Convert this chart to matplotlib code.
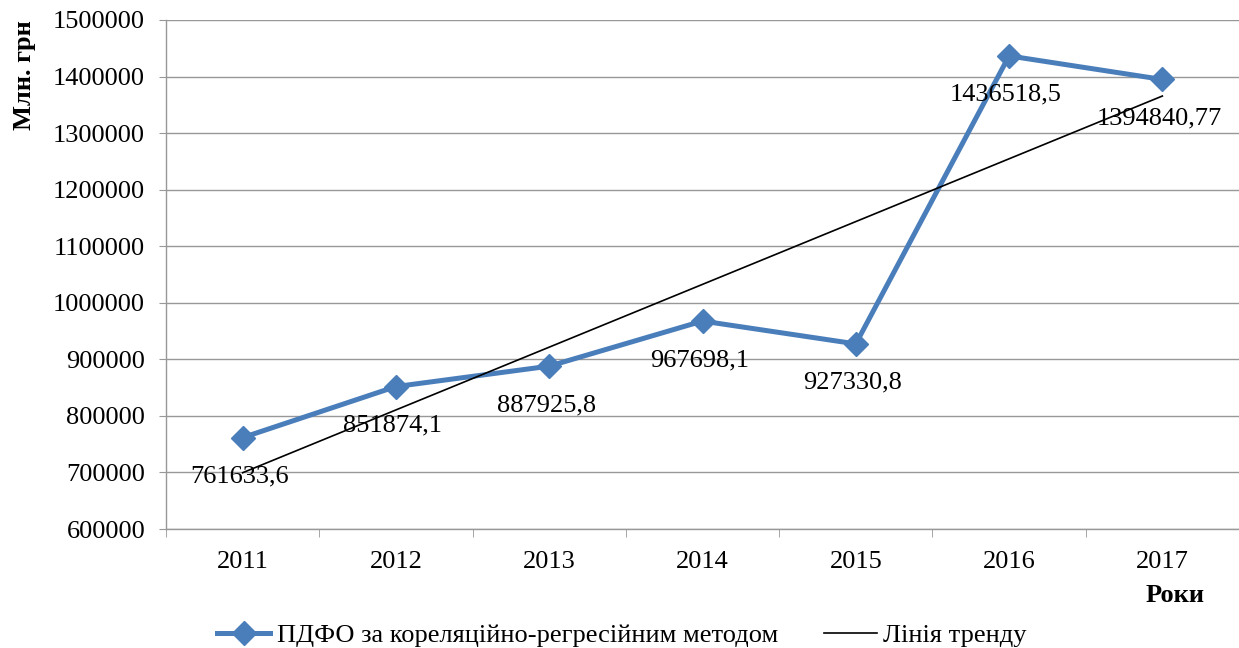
import matplotlib
matplotlib.use("Agg")
import matplotlib.pyplot as plt
import numpy as np
from matplotlib.lines import Line2D

years = ["2011", "2012", "2013", "2014", "2015", "2016", "2017"]
values = [761633.6, 851874.1, 887925.8, 967698.1, 927330.8, 1436518.5, 1394840.77]
value_labels = ["761633,6", "851874,1", "887925,8", "967698,1", "927330,8", "1436518,5", "1394840,77"]
series_name = "ПДФО за кореляційно-регресійним методом"
trend_name = "Лінія тренду"

plt.rcParams['font.family'] = ['Liberation Serif', 'DejaVu Serif']
FS = 19

fig = plt.figure(figsize=(12.39, 6.48), dpi=100)
ax = fig.add_axes([166/1239, 1-529/648, 1-166/1239, (529-20)/648])

x = np.arange(1, len(years)+1)
blue = '#4A7EBB'
ax.plot(x, values, color=blue, lw=3.6, marker='D', ms=12, zorder=3)

coef = np.polyfit(x, values, 1)
ax.plot(x, np.polyval(coef, x), color='black', lw=1.2, zorder=4)

for xi, v, lab in zip(x, values, value_labels):
    ax.annotate(lab, (xi, v), xytext=(-3, -39), textcoords='offset pixels',
                ha='center', va='center', fontsize=FS, zorder=5)

ax.set_xlim(0.5, 7.5)
ax.set_ylim(600000, 1500000)
ax.set_yticks(np.arange(600000, 1500001, 100000))
ax.set_yticklabels([str(v) for v in range(600000, 1500001, 100000)], fontsize=FS)
ax.yaxis.grid(True, color='#989898', lw=1)
ax.set_axisbelow(True)

ax.set_xticks(x)
ax.set_xticklabels(years, fontsize=FS)
ax.set_xticks(np.arange(0.5, 7.6, 1), minor=True)
ax.tick_params(axis='x', which='major', length=0, pad=16)
ax.tick_params(axis='x', which='minor', length=6, color='#989898')
ax.tick_params(axis='y', length=5, color='#989898', pad=10)

for s in ['top', 'right']:
    ax.spines[s].set_visible(False)
for s in ['left', 'bottom']:
    ax.spines[s].set_color('#989898')
    ax.spines[s].set_linewidth(1)

fig.text(25/1239, 1-75/648, "Млн. грн", rotation=90, ha='center', va='center',
         fontsize=FS, fontweight='bold')
fig.text(1175/1239, 1-595/648, "Роки", ha='center', va='center',
         fontsize=FS, fontweight='bold')

handles = [Line2D([0], [0], color=blue, lw=3.6, marker='D', ms=12),
           Line2D([0], [0], color='black', lw=1.2)]
fig.legend(handles, [series_name, trend_name], loc='center', bbox_to_anchor=(0.502, 1-635/648),
           ncol=2, frameon=False, fontsize=FS, handlelength=2.0, handletextpad=0.25,
           columnspacing=1.75, borderpad=0, borderaxespad=0)

fig.savefig("out.png", dpi=100)
